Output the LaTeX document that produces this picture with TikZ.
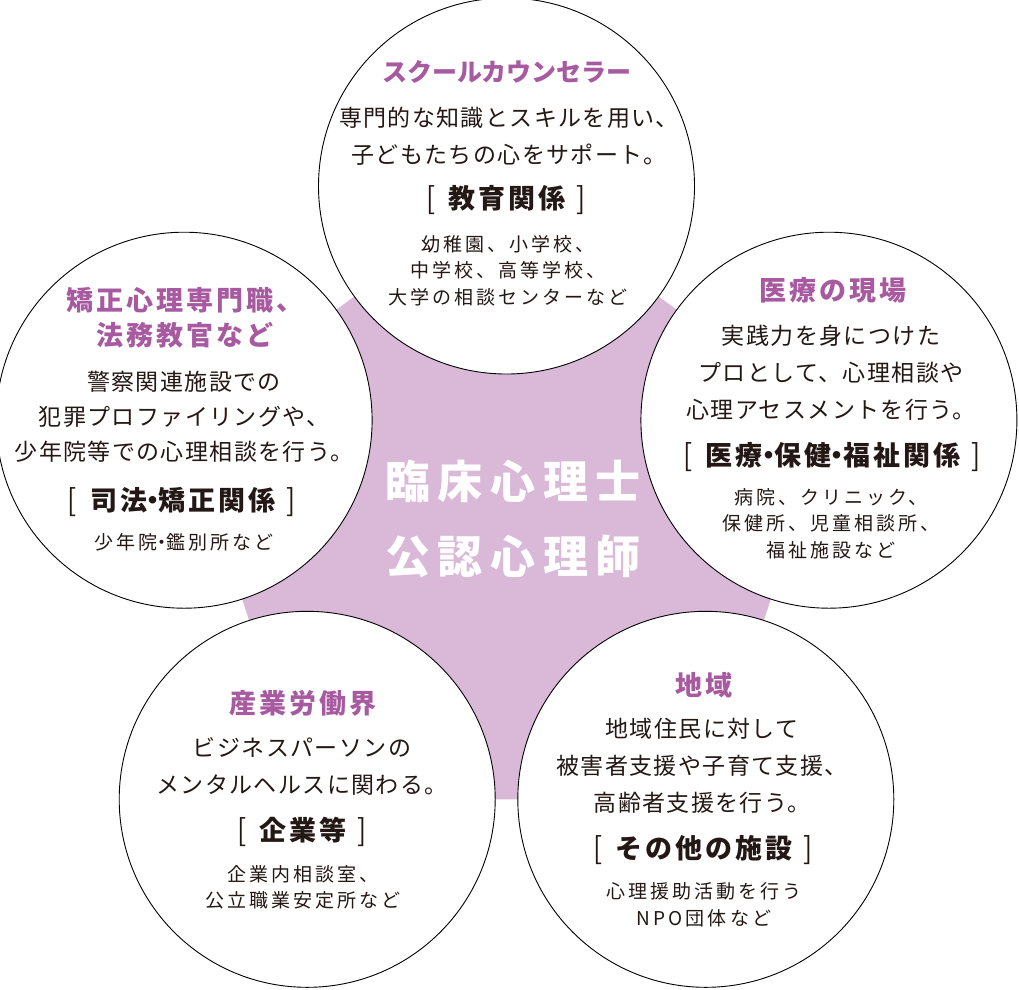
\documentclass[tikz,border=0pt]{standalone}
\usepackage{fontspec}
\setmainfont{Noto Sans CJK JP}
\newfontfamily\jpbody[LetterSpace=6]{Noto Sans CJK JP}
\newfontfamily\jpplain{Noto Sans CJK JP}
\newfontfamily\jpsmall[LetterSpace=16]{Noto Sans CJK JP}
\newfontfamily\jphead[LetterSpace=11]{Noto Sans CJK JP}
\newfontfamily\jpcenter[LetterSpace=17]{Noto Sans CJK JP}
\definecolor{ttlc}{RGB}{168,90,160}
\definecolor{pentc}{RGB}{217,184,216}
\definecolor{txtc}{RGB}{35,24,21}
\newcommand\brk[1]{{\jpplain\mdseries\raisebox{-1pt}{\scalebox{1}[1.12]{[}}}\hspace{13pt}#1\hspace{11pt}{\jpplain\mdseries\raisebox{-1pt}{\scalebox{1}[1.12]{]}}}}
\newcommand\dt{\kern-0.28em・\kern-0.28em}
\tikzset{
  circ/.style={circle, draw=black, line width=0.9pt, fill=white, minimum size=376pt, inner sep=0pt},
  ttl/.style={text=ttlc, align=center, inner sep=0pt, font={\jphead\bfseries\fontsize{27}{35}\selectfont}},
  ttlk/.style={text=ttlc, align=center, inner sep=0pt, font={\jpplain\bfseries\fontsize{25}{35}\selectfont}},
  bodyt/.style={text=txtc, align=center, inner sep=0pt, font={\jpbody\fontsize{23}{37}\selectfont}},
  headt/.style={text=txtc, align=center, inner sep=0pt, font={\jphead\bfseries\fontsize{27}{35}\selectfont}},
  smallt/.style={text=txtc, align=center, inner sep=0pt, font={\jpsmall\fontsize{19}{26.5}\selectfont}},
  centert/.style={text=white, align=center, inner sep=0pt, font={\jpcenter\bfseries\fontsize{45}{75}\selectfont}}
}
\begin{document}
\begin{tikzpicture}[x=1pt,y=-1pt]
\path[use as bounding box] (0,0) rectangle (1019,989);
\clip (0,0) rectangle (1019,989);
% pentagon vertices
\coordinate (vt) at (506.5,186);
\coordinate (vl) at (184.1,420.2);
\coordinate (vbl) at (307.2,799.3);
\coordinate (vbr) at (705.8,799.3);
\coordinate (vr) at (828.9,420.2);
\fill[pentc] (vt) -- (vl) -- (vbl) -- (vbr) -- (vr) -- cycle;
% circles
\node[circ] (ctop) at (vt) {};
\node[circ] (cleft) at (vl) {};
\node[circ] (cright) at (vr) {};
\node[circ] (cbl) at (vbl) {};
\node[circ] (cbr) at (vbr) {};
% centre
\node[centert] (center) at (513,519) {臨床心理士\\公認心理師};
% top
\node[ttlk] (t1) at (507,72) {スクールカウンセラー};
\node[bodyt] (b1) at (509,136.5) {専門的な知識とスキルを用い、\\子どもたちの心をサポート。};
\node[headt] (h1) at (506,200) {\brk{教育関係}};
\node[smallt] (s1) at (508,270.5) {幼稚園、小学校、\\中学校、高等学校、\\大学の相談センターなど};
% left
\node[ttl] (t2) at (185,317.5) {矯正心理専門職、\\法務教官など};
\node[bodyt, font={\jpbody\fontsize{23}{35}\selectfont}] (b2) at (184,417) {警察関連施設での\\犯罪プロファイリングや、\\少年院等での心理相談を行う。};
\node[headt] (h2) at (182,502) {\brk{司法\dt 矯正関係}};
\node[smallt] (s2) at (184,542) {少年院\dt 鑑別所など};
% right
\node[ttl] (t3) at (833,290) {医療の現場};
\node[bodyt] (b3) at (831,372.5) {実践力を身につけた\\プロとして、心理相談や\\心理アセスメントを行う。};
\node[headt] (h3) at (832,457) {\brk{医療\dt 保健\dt 福祉関係}};
\node[smallt] (s3) at (831,523.5) {病院、クリニック、\\保健所、児童相談所、\\福祉施設など};
% bottom left
\node[ttl] (t4) at (303,703) {産業労働界};
\node[bodyt] (b4) at (302,766.5) {ビジネスパーソンの\\メンタルヘルスに関わる。};
\node[headt] (h4) at (302,832) {\brk{企業等}};
\node[smallt] (s4) at (303,887.5) {企業内相談室、\\公立職業安定所など};
% bottom right
\node[ttl] (t5) at (704,685) {地域};
\node[bodyt] (b5) at (702,765.5) {地域住民に対して\\被害者支援や子育て支援、\\高齢者支援を行う。};
\node[headt] (h5) at (703,850) {\brk{その他の施設}};
\node[smallt] (s5) at (704,905) {心理援助活動を行う\\NPO団体など};
\end{tikzpicture}
\end{document}
